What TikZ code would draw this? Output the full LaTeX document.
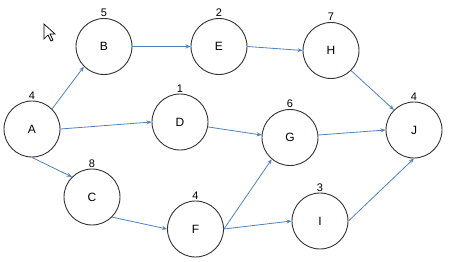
\documentclass[tikz,border=0pt]{standalone}
\usepackage{fontspec}
\setmainfont{Liberation Sans}
\usetikzlibrary{arrows.meta}
\definecolor{edgeblue}{RGB}{79,129,189}
\definecolor{ringgray}{RGB}{50,50,50}
\tikzset{
  task/.style={circle, draw=ringgray, line width=0.9pt, minimum size=56pt, inner sep=0pt, font=\fontsize{12}{12}\selectfont},
  dur/.style={font=\fontsize{11}{11}\selectfont, inner sep=0pt, anchor=south},
  link/.style={draw=edgeblue, line width=0.8pt, -{Stealth[length=5pt,width=4pt]}}
}
\begin{document}
\begin{tikzpicture}[x=1pt,y=-1pt]
\useasboundingbox (0,0) rectangle (459,262);
\node[task] (A) at (32,129) {A};
\node[task] (B) at (104,46.5) {B};
\node[task] (E) at (219,46.5) {E};
\node[task] (H) at (331,50.5) {H};
\node[task] (D) at (180,122) {D};
\node[task] (G) at (290,137.5) {G};
\node[task] (J) at (414,130) {J};
\node[task] (C) at (92,197) {C};
\node[task] (F) at (195.5,229) {F};
\node[task] (I) at (320,221) {I};
\foreach \n/\v in {A/4,B/5,E/2,H/7,D/1,G/6,J/4,C/8,F/4,I/3}
  \node[dur] (l\n) at ([yshift=1pt]\n.north) {\v};
\draw[link] (A.45) -- (B.225);
\draw[link] (A.east) -- (D.west);
\draw[link] (A.south) -- (C.135);
\draw[link] (B.east) -- (E.west);
\draw[link] (E.east) -- (H.west);
\draw[link] (H.-45) -- (J.135);
\draw[link] (D.-10) -- (G.175);
\draw[link] (G.5) -- (J.west);
\draw[link] (C.-45) -- (F.west);
\draw[link] (F.east) -- (G.230);
\draw[link] (F.east) -- (I.west);
\draw[link] (I.east) -- (J.south);
\draw[fill=white, line width=0.7pt, line join=miter] (44,24) -- ++(0,15) -- ++(4,-4) -- ++(3,6) -- ++(2,-1) -- ++(-3,-6) -- ++(5,0) -- cycle;
\end{tikzpicture}
\end{document}
